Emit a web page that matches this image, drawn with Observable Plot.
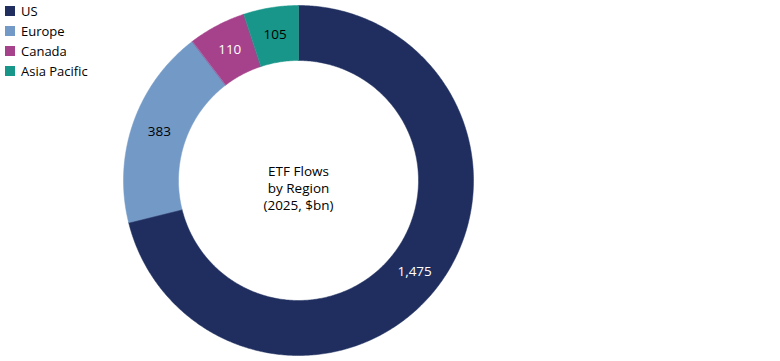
<!DOCTYPE html>
<html>
<head>
<meta charset="utf-8">
<script src="https://cdn.jsdelivr.net/npm/d3@7"></script>
<script src="https://cdn.jsdelivr.net/npm/@observablehq/plot@0.6"></script>
<style>
  body { margin: 0; background: #fff; font-family: "Open Sans", "Noto Sans", sans-serif; }
  #wrap { position: relative; width: 780px; height: 361px; }
  #legend { position: absolute; left: 5px; top: 1px; font-size: 13px; color: #000; }
  .item { display: flex; align-items: center; height: 20px; }
  .sw { width: 10px; height: 10px; margin-right: 6px; }
</style>
</head>
<body>
<div id="wrap">
  <div id="chart"></div>
  <div id="legend"></div>
</div>
<script>
const regions = ["US", "Europe", "Canada", "Asia Pacific"];
const flows = [1475, 383, 110, 105];
const colors = ["#1f2e5e", "#7399c6", "#a6428b", "#189689"];
const labelColors = ["#ffffff", "#000000", "#ffffff", "#000000"];
const labels = ["1,475", "383", "110", "105"];
const centerLines = ["ETF Flows", "by Region", "(2025, $bn)"];

const outerR = 1;
const innerR = 120 / 175;
const total = d3.sum(flows);

// build slice polygons (angle clockwise from 12 o'clock)
const polys = [];
const labelPts = [];
let acc = 0;
regions.forEach((reg, i) => {
  const a0 = acc / total * 2 * Math.PI;
  acc += flows[i];
  const a1 = acc / total * 2 * Math.PI;
  const n = Math.max(8, Math.ceil((a1 - a0) / 0.01));
  for (let k = 0; k <= n; k++) {
    const a = a0 + (a1 - a0) * k / n;
    polys.push({region: reg, x: outerR * Math.sin(a), y: outerR * Math.cos(a)});
  }
  for (let k = n; k >= 0; k--) {
    const a = a0 + (a1 - a0) * k / n;
    polys.push({region: reg, x: innerR * Math.sin(a), y: innerR * Math.cos(a)});
  }
  const am = (a0 + a1) / 2;
  const rm = (outerR + innerR) / 2;
  labelPts.push({region: reg, label: labels[i], color: labelColors[i], x: rm * Math.sin(am), y: rm * Math.cos(am)});
});

const chart = Plot.plot({
  width: 780,
  height: 361,
  margin: 0,
  x: {domain: [-1, 1], range: [123, 473], axis: null},
  y: {domain: [-1, 1], range: [355, 5], axis: null},
  color: {domain: regions, range: colors},
  style: {fontFamily: "'Open Sans', 'Noto Sans', sans-serif", background: "#fff"},
  marks: [
    Plot.line(polys, {x: "x", y: "y", z: "region", fill: "region", stroke: "region", strokeWidth: 0.5, curve: "linear-closed"}),
    Plot.text(labelPts, {x: "x", y: "y", text: "label", fill: "color", fontSize: 13.5}),
    Plot.text([centerLines.join("\n")], {x: [0], y: [0], dy: 7, text: d => d, fontSize: 13.5, lineHeight: 1.24, fill: "#000"})
  ]
});
document.getElementById("chart").appendChild(chart);

const legend = document.getElementById("legend");
regions.forEach((r, i) => {
  const it = document.createElement("div");
  it.className = "item";
  it.innerHTML = `<div class="sw" style="background:${colors[i]}"></div><span>${r}</span>`;
  legend.appendChild(it);
});
</script>
</body>
</html>
